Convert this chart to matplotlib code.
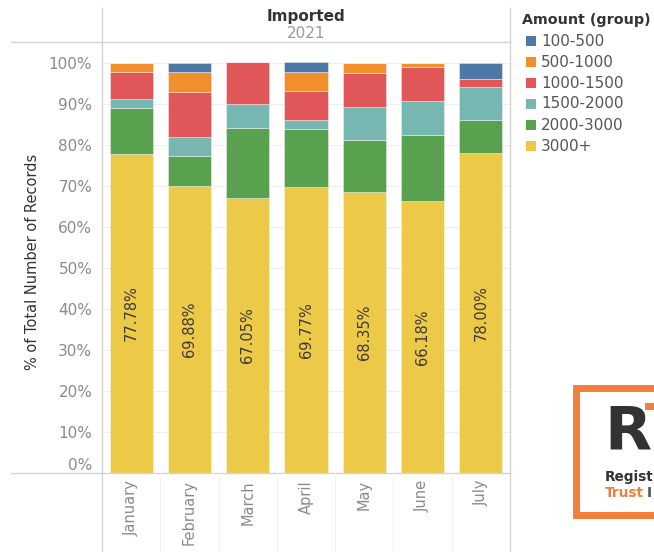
import matplotlib
matplotlib.use("Agg")
import matplotlib.pyplot as plt
from matplotlib.patches import Rectangle
from matplotlib.lines import Line2D
import numpy as np

# ---- data (percent of total records per month) ----
months = ["January", "February", "March", "April", "May", "June", "July"]
groups = ["100-500", "500-1000", "1000-1500", "1500-2000", "2000-3000", "3000+"]
group_colors = ["#4e79a7", "#f28e2b", "#e15759", "#76b7b2", "#59a14f", "#edc948"]

pct_3000_plus = [77.78, 69.88, 67.05, 69.77, 68.35, 66.18, 78.00]
pct_2000_3000 = [11.11, 7.23, 17.05, 13.95, 12.66, 16.18, 8.00]
pct_1500_2000 = [2.22, 4.82, 5.68, 2.33, 8.23, 8.33, 8.00]
pct_1000_1500 = [6.67, 10.84, 10.23, 6.98, 8.23, 8.33, 2.00]
pct_500_1000 = [2.22, 4.82, 0.00, 4.65, 2.53, 0.98, 0.00]
pct_100_500 = [0.00, 2.41, 0.00, 2.33, 0.00, 0.00, 4.00]

y_ticks = [0, 10, 20, 30, 40, 50, 60, 70, 80, 90, 100]

W, H = 654, 552


def fx(px):
    return px / W


def fy(py):
    return 1 - py / H


fig = plt.figure(figsize=(W / 100, H / 100), dpi=100)
fig.patch.set_facecolor("white")

ax = fig.add_axes([fx(102), fy(473), fx(510) - fx(102), fy(42) - fy(473)])

# stacking order: bottom to top
stack = [
    (pct_3000_plus, group_colors[5]),
    (pct_2000_3000, group_colors[4]),
    (pct_1500_2000, group_colors[3]),
    (pct_1000_1500, group_colors[2]),
    (pct_500_1000, group_colors[1]),
    (pct_100_500, group_colors[0]),
]

x = np.arange(len(months))
bottom = np.zeros(len(months))
for vals, col in stack:
    v = np.array(vals, dtype=float)
    ax.bar(x, v, bottom=bottom, width=0.74, color=col,
           edgecolor=(1, 1, 1, 0.45), linewidth=0.6, zorder=3)
    bottom += v

# value labels on the 3000+ segment
for xi, v in zip(x, pct_3000_plus):
    ax.text(xi, v / 2, f"{v:.2f}%", rotation=90, ha="center", va="center",
            fontsize=10.5, color="#3a3a3a", zorder=4)

ax.set_xlim(-0.5, len(months) - 0.5)
ax.set_ylim(0, 105)
ax.set_yticks(y_ticks)
ax.set_yticklabels([f"{t}%" for t in y_ticks], fontsize=11, color="#8a8a8a")
ax.tick_params(axis="y", length=0, pad=7)
for lbl in ax.get_yticklabels():
    if lbl.get_text() == "0%":
        lbl.set_verticalalignment("bottom")

ax.set_xticks(x)
ax.set_xticklabels(months, rotation=90, fontsize=10.5, color="#8a8a8a", va="top")
ax.tick_params(axis="x", length=0, pad=5)

ax.grid(axis="y", color="#efefef", linewidth=0.8, zorder=0)
ax.set_axisbelow(True)
for s in ax.spines.values():
    s.set_visible(False)

fig.text(fx(33), fy(262), "% of Total Number of Records", rotation=90,
         ha="center", va="center", fontsize=10.5, color="#333333")

# frame lines around the pane
line_col = "#d4d4d4"
fig.add_artist(Line2D([fx(11), fx(510)], [fy(42), fy(42)], color=line_col, lw=1))
fig.add_artist(Line2D([fx(11), fx(510)], [fy(473), fy(473)], color=line_col, lw=1))
fig.add_artist(Line2D([fx(102), fx(102)], [fy(8), fy(552)], color=line_col, lw=1))
fig.add_artist(Line2D([fx(510), fx(510)], [fy(8), fy(552)], color=line_col, lw=1))
for i in range(1, len(months)):
    xp = 102 + i * (408 / len(months))
    fig.add_artist(Line2D([fx(xp), fx(xp)], [fy(473), fy(552)], color="#f2f2f2", lw=0.8))

# header
fig.text(fx(306), fy(17), "Imported", ha="center", va="center", fontsize=11,
         color="#333333", fontweight="semibold")
fig.text(fx(306), fy(33), "2021", ha="center", va="center", fontsize=11,
         color="#9a9a9a")

# legend
fig.text(fx(522), fy(20), "Amount (group)", ha="left", va="center", fontsize=10.3,
         color="#333333", fontweight="semibold")
for i, (g, c) in enumerate(zip(groups, group_colors)):
    yc = 41 + i * 21
    fig.add_artist(Rectangle((fx(526), fy(yc + 5)), fx(10), 10 / H,
                             facecolor=c, edgecolor="none"))
    fig.text(fx(541), fy(yc), g, ha="left", va="center", fontsize=11,
             color="#555555")

# logo in the lower right corner
orange = "#f0803c"
fig.add_artist(Rectangle((fx(576), fy(515)), fx(100), (515 - 388) / H,
                         facecolor="white", edgecolor=orange, linewidth=5))
fig.text(fx(604), fy(433), "R", ha="left", va="center", fontsize=44,
         color="#333333", fontweight="bold")
fig.add_artist(Rectangle((fx(645), fy(410)), fx(12), 7 / H,
                         facecolor=orange, edgecolor="none"))
fig.text(fx(605), fy(477), "Regist", ha="left", va="center", fontsize=9.8,
         color="#333333", fontweight="bold")
fig.text(fx(605), fy(493), "Trust", ha="left", va="center", fontsize=9.8,
         color=orange, fontweight="bold")
fig.text(fx(647), fy(493), "I", ha="left", va="center", fontsize=9.8,
         color="#555555", fontweight="bold")

fig.savefig("out.png", dpi=100, facecolor="white")
